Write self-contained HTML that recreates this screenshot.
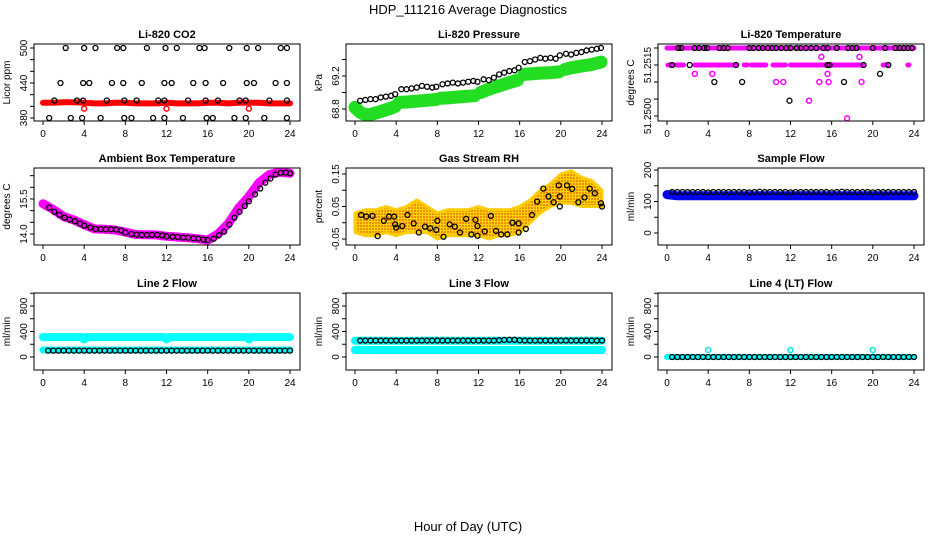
<!DOCTYPE html>
<html><head><meta charset="utf-8"><style>
html,body{margin:0;padding:0;background:#fff;}
svg{display:block;font-family:"Liberation Sans",sans-serif;}
</style></head><body>
<svg id="chart" width="936" height="540" viewBox="0 0 936 540" xmlns="http://www.w3.org/2000/svg">
<defs>
<pattern id="rhpat" width="3" height="3" patternUnits="userSpaceOnUse">
<rect width="3" height="3" fill="#ffd200"/><rect width="2" height="2" fill="#f08c00"/>
</pattern>
</defs>
<text x="468" y="14" text-anchor="middle" font-size="13">HDP_111216  Average Diagnostics</text>
<text x="468" y="531" text-anchor="middle" font-size="13">Hour of Day (UTC)</text>
</svg>
<script>
// ---------- data ----------
const xTicks = [0,4,8,12,16,20,24];
// CO2
const co2RedX = [0,1,2,3,4,5,6,7,8,9,10,11,12,13,14,15,16,17,18,19,20,21,22,23,24];
const co2RedY = [406,406,407,407,406,405,405,406,406,405,405,405,406,405,405,405,406,406,405,406,406,406,405,405,405];
const co2RedCircX = [4,12,20];
const co2RedCircY = [396,396,396];
const co2Black500 = [2.2,4.0,5.1,7.2,7.8,10.1,11.9,13.0,15.2,15.7,18.1,19.8,20.9,23.1,23.7];
const co2Black440 = [1.7,3.9,4.5,6.7,7.8,9.6,11.8,12.5,14.6,15.8,17.5,19.8,20.5,22.6,23.7];
const co2Black410 = [1.1,3.3,3.9,6.2,7.9,9.1,11.2,11.8,14.1,15.8,17.0,19.1,19.7,22.0,23.7];
const co2Black380 = [0.6,2.7,3.8,5.6,7.9,8.6,10.7,11.8,13.6,15.9,16.5,18.6,19.7,21.5,23.7];
// Pressure
const pressGreenX = [0,0.5,1,1.5,2,2.5,3,3.5,3.9, 4.3,5,6,7,7.9, 8.3,9,10,11,11.6, 12.2,13,14,15,15.8, 16.4,17,18,19,19.8, 20.4,21,22,23,23.9];
const pressGreenY = [68.82,68.76,68.73,68.735,68.75,68.77,68.79,68.81,68.83, 68.88,68.885,68.895,68.905,68.915, 68.93,68.935,68.945,68.955,68.96, 69.0,69.04,69.08,69.12,69.15, 69.22,69.225,69.235,69.24,69.25, 69.28,69.3,69.32,69.34,69.37];
const pressGreenSeg = [0,0,0,0,0,0,0,0,0, 1,1,1,1,1, 2,2,2,2,2, 3,3,3,3,3, 4,4,4,4,4, 5,5,5,5,5];
const pressBlackX = [0.5,1,1.5,2,2.5,3,3.5,3.9,4.5,5,5.5,6,6.5,7,7.5,7.9,8.5,9,9.5,10,10.5,11,11.5,11.9,12.5,13,13.5,14,14.5,15,15.5,15.9,16.5,17,17.5,18,18.5,19,19.5,19.9,20.5,21,21.5,22,22.5,23,23.5,23.9];
const pressBlackY = [68.90,68.91,68.92,68.92,68.94,68.95,68.96,68.98,69.04,69.04,69.05,69.06,69.08,69.07,69.06,69.07,69.10,69.11,69.12,69.11,69.12,69.13,69.14,69.13,69.16,69.15,69.18,69.22,69.24,69.26,69.27,69.30,69.37,69.38,69.40,69.42,69.41,69.42,69.41,69.45,69.47,69.46,69.48,69.49,69.51,69.52,69.53,69.54];
// Li-820 temperature
const tempTopX = [0,24];
const tempTopY = [51.2520,51.2520];
const tempMidSegStart = [0.1,0.9,2.7,7.5,8.2,10.3,12.0,21.0,23.4];
const tempMidSegEnd = [0.5,1.6,6.8,7.8,9.6,11.5,19.0,21.4,23.5];
const tempMidLevel = 51.2515;
const tempMagX = [2.7,4.4,15.0,18.7,15.6,10.6,11.3,14.8,15.7,18.9,13.8,17.5];
const tempMagY = [51.25124,51.25124,51.25174,51.25174,51.25124,51.2510,51.2510,51.2510,51.2510,51.2510,51.25045,51.24993];
const tempBlackTopX = [1.1,1.4,2.7,3.1,3.6,3.9,5.1,5.5,5.9,8.0,8.4,8.9,9.3,9.8,10.2,10.6,11.1,11.6,12.0,12.6,13.0,13.5,14.0,14.5,15.2,15.6,16.5,17.6,18.0,18.4,20.0,21.2,22.2,22.6,23.0,23.4,23.8];
const tempBlackMidX = [0.5,2.2,6.7,15.6,15.8,19.1,21.5];
const tempBlackOtherX = [4.6,7.3,11.9,17.2,20.7];
const tempBlackOtherY = [51.2510,51.2510,51.25045,51.2510,51.25124];
// Ambient box temperature
const ambMagX = [0,1,2,3,4,5,6,7,8,9,10,11,12,13,14,15,16,17,18,19,20,21,22,23,24];
const ambMagY = [15.3,15.05,14.75,14.6,14.4,14.22,14.2,14.17,14.08,13.98,13.97,13.96,13.9,13.87,13.84,13.8,13.74,14.0,14.45,15.1,15.6,16.2,16.55,16.65,16.6];
const ambBlackX = [0.6,1.1,1.6,2.1,2.6,3.1,3.6,4.0,4.6,5.1,5.6,6.1,6.6,7.1,7.6,8.0,8.6,9.1,9.6,10.1,10.6,11.1,11.6,12.0,12.6,13.1,13.6,14.1,14.6,15.1,15.6,16.0,16.6,17.1,17.6,18.1,18.6,19.1,19.6,20.0,20.6,21.1,21.6,22.1,22.6,23.1,23.6,24.0];
const ambBlackY = [15.13,14.95,14.82,14.7,14.62,14.55,14.45,14.36,14.28,14.22,14.21,14.2,14.2,14.19,14.15,14.06,14.0,13.97,13.96,13.96,13.96,13.96,13.94,13.9,13.88,13.87,13.85,13.84,13.82,13.8,13.76,13.74,13.8,13.95,14.1,14.4,14.7,14.95,15.2,15.4,15.7,15.95,16.2,16.38,16.55,16.62,16.63,16.6];
// Gas stream RH
const rhEnvX = [0,1,2,3,4,5,6,7,8,9,10,11,12,13,14,15,16,17,18,19,20,21,22,23,24];
const rhEnvLow = [-0.03,-0.04,-0.04,-0.03,-0.04,-0.03,-0.03,-0.03,-0.05,-0.04,-0.04,-0.04,-0.04,-0.05,-0.04,-0.04,-0.03,0.0,0.03,0.05,0.06,0.06,0.05,0.05,0.05];
const rhEnvHigh = [0.03,0.04,0.04,0.05,0.04,0.05,0.07,0.05,0.03,0.04,0.04,0.04,0.05,0.04,0.04,0.04,0.05,0.07,0.10,0.12,0.15,0.16,0.14,0.13,0.10];
const rhBlackX = [0.6,1.1,1.7,2.2,2.8,3.3,3.8,3.9,4.0,4.6,5.1,5.7,6.2,6.8,7.3,7.9,8.0,8.6,9.2,9.7,10.2,10.8,11.3,11.7,11.9,11.9,12.6,13.2,13.7,14.2,14.8,15.3,15.9,15.9,16.6,17.2,17.7,18.3,18.8,19.3,19.8,19.9,19.9,20.6,21.1,21.7,22.3,22.8,23.3,23.9,24.0];
const rhBlackY = [0.024,0.019,0.021,-0.041,0.006,0.019,0.019,-0.005,-0.015,-0.01,0.024,-0.002,-0.03,-0.012,-0.017,-0.022,0.006,-0.043,-0.005,-0.012,-0.03,0.012,-0.036,0.009,-0.01,-0.04,-0.027,0.021,-0.025,-0.036,-0.036,0.0,-0.002,-0.03,-0.019,0.024,0.065,0.105,0.081,0.063,0.115,0.081,0.05,0.115,0.104,0.063,0.078,0.105,0.091,0.06,0.05];
// Sample flow
const sfBlueX = [0,1,2,3,4,5,6,7,8,9,10,11,12,13,14,15,16,17,18,19,20,21,22,23,24];
const sfBlueY = [122,118,118,118,118,118,118,118,118,118,118,118,118,118,118,118,118,118,118,118,118,118,118,118,118];
const sfBlackX = [0.5,1,1.5,2,2.5,3,3.5,4,4.5,5,5.5,6,6.5,7,7.5,8,8.5,9,9.5,10,10.5,11,11.5,12,12.5,13,13.5,14,14.5,15,15.5,16,16.5,17,17.5,18,18.5,19,19.5,20,20.5,21,21.5,22,22.5,23,23.5,24];
const sfBlackY = [130,130,130,130,130,130,130,129,130,130,130,130,130,130,130,129,130,131,130,130,130,130,130,129,130,130,130,130,130,130,130,129,130,131,130,130,130,130,130,129,130,130,130,130,130,130,130,130];
// Line 2 flow
const l2CyanHiX = [0,1,2,3,3.8,4,4.2,5,6,7,8,9,10,11,11.8,12,12.2,13,14,15,16,17,18,19,19.8,20,20.2,21,22,23,24];
const l2CyanHiY = [312,312,312,312,312,275,312,312,312,312,312,312,312,312,312,275,312,312,312,312,312,312,312,312,312,275,312,312,312,312,312];
const l2CyanLoX = [0,4,8,12,16,20,24];
const l2CyanLoY = [110,110,110,110,110,110,110];
const l2BlackX = sfBlackX;
const l2BlackY = [100,100,100,100,100,100,100,100,100,100,100,100,100,100,100,100,100,100,100,100,100,100,100,100,100,100,100,100,100,100,100,100,100,100,100,100,100,100,100,100,100,100,100,100,100,100,100,100];
// Line 3 flow
const l3CyanHiX = [0,4,8,12,16,20,24];
const l3CyanHiY = [255,255,255,255,255,255,255];
const l3CyanLoX = [0,4,8,12,16,20,24];
const l3CyanLoY = [112,110,110,110,110,110,110];
const l3BlackX = sfBlackX;
const l3BlackY = [258,258,258,258,258,258,258,258,258,258,258,258,258,258,258,258,258,258,258,258,258,258,258,258,258,258,258,262,268,270,270,262,258,258,258,258,258,258,258,258,258,258,258,258,258,258,258,258];
// Line 4 flow
const l4CyanX = [0,24];
const l4CyanY = [0,0];
const l4CyanCircX = [4,12,20];
const l4CyanCircY = [110,110,110];
const l4BlackX = sfBlackX;
const l4BlackY = [0,0,0,0,0,0,0,0,0,0,0,0,0,0,0,0,0,0,0,0,0,0,0,0,0,0,0,0,0,0,0,0,0,0,0,0,0,0,0,0,0,0,0,0,0,0,0,0];

// ---------- drawing ----------
const NS = 'http://www.w3.org/2000/svg';
const svg = document.getElementById('chart');
function mk(tag, parent, attrs){
  const e = document.createElementNS(NS, tag);
  for (const k in attrs) e.setAttribute(k, attrs[k]);
  parent.appendChild(e);
  return e;
}
const colL = [34,346,658];
const rowT = [44,168,293];
const W = 266, H = 77;

function panel(col,row,name,title,ylab,yTop,yTopPx,yBot,yBotPx,yt,ylabels){
  const L = colL[col], T = rowT[row];
  const g = mk('g', svg, {});
  
  
  const sx = v => L + 9 + v/24*247;
  const sy = v => (T+yBotPx) + (v - yBot)/(yTop - yBot)*(yTopPx - yBotPx);
  const plot = mk('g', g, {});
  
  
  const box = mk('rect', g, {x:L, y:T, width:W, height:H, fill:'none', stroke:'#000', 'stroke-width':1});
  
  
  const t = mk('text', g, {x:L+W/2, y:T-6, 'text-anchor':'middle', 'font-size':11, 'font-weight':'bold'});
  t.textContent = title;
  
  
  const yl = mk('text', g, {x:0, y:0, 'text-anchor':'middle', 'font-size':10, transform:`translate(${L-24},${T+H/2}) rotate(-90)`});
  yl.textContent = ylab;
  
  
  xTicks.forEach(v=>{
    const tk = mk('line', g, {x1:sx(v), x2:sx(v), y1:T+H, y2:T+H+4, stroke:'#000'});
    
    
    const lb = mk('text', g, {x:sx(v), y:T+H+16, 'text-anchor':'middle', 'font-size':10});
    lb.textContent = v;
    
    
  });
  yt.forEach(v=>{
    const tk = mk('line', g, {x1:L-4, x2:L, y1:sy(v), y2:sy(v), stroke:'#000'});
    
    
  });
  ylabels.forEach(p=>{
    const lb = mk('text', g, {x:0, y:0, 'text-anchor':'middle', 'font-size':10, transform:`translate(${L-7},${sy(p[0])}) rotate(-90)`});
    lb.textContent = p[1];
    
    
  });
  return {g:plot, sx, sy};
}
function dot(P, x, y, r, fill, stroke, sw, nm){
  const c = mk('circle', P.g, {cx:P.sx(x), cy:P.sy(y), r:r, fill:fill, stroke:stroke, 'stroke-width':sw});
  
  
}
function band(P, xs, ys, color, w, nm, seg){
  let pts = [];
  const flush = ()=>{
    if (!pts.length) return;
    const pl = mk('polyline', P.g, {points:pts.join(' '), fill:'none', stroke:color, 'stroke-width':w, 'stroke-linecap':'round', 'stroke-linejoin':'round'});
    
    
    pts = [];
  };
  for (let i=0;i<xs.length;i++){
    if (seg && i>0 && seg[i] !== seg[i-1]) flush();
    pts.push(P.sx(xs[i]).toFixed(1)+','+P.sy(ys[i]).toFixed(1));
  }
  flush();
}
function blacks(P, xs, ys, nm){
  for (let i=0;i<xs.length;i++) dot(P, xs[i], ys[i], 2.5, 'none', '#000', 1.3, nm);
}

// CO2
let P = panel(0,0,'co2','Li-820 CO2','Licor ppm',500,4,380,74,[380,400,420,440,460,480,500],[[380,'380'],[440,'440'],[500,'500']]);
band(P, co2RedX, co2RedY, '#ff0000', 6, 'co2-red-series');
for (let i=0;i<co2RedCircX.length;i++) dot(P, co2RedCircX[i], co2RedCircY[i], 2.5, 'none', '#ff0000', 1.4, 'co2-red-point');
blacks(P, co2Black500, co2Black500.map(()=>500), 'co2-black-point');
blacks(P, co2Black440, co2Black440.map(()=>440), 'co2-black-point');
blacks(P, co2Black410, co2Black410.map(()=>410), 'co2-black-point');
blacks(P, co2Black380, co2Black380.map(()=>380), 'co2-black-point');

// Pressure
P = panel(1,0,'pressure','Li-820 Pressure','kPa',69.2,32,68.8,65,[68.8,69.0,69.2,69.4],[[68.8,'68.8'],[69.2,'69.2']]);
band(P, pressGreenX, pressGreenY, '#22dd22', 13, 'pressure-green-series', pressGreenSeg);
blacks(P, pressBlackX, pressBlackY, 'pressure-black-point');

// Li-820 temperature
P = panel(2,0,'li820-temp','Li-820 Temperature','degrees C',51.2520,4,51.2500,72,[51.2500,51.2505,51.2510,51.2515,51.2520],[[51.2500,'51.2500'],[51.2515,'51.2515']]);
band(P, tempTopX, tempTopY, '#ff00ff', 5, 'li820-temp-magenta-top');
for (let i=0;i<tempMidSegStart.length;i++) band(P, [tempMidSegStart[i],tempMidSegEnd[i]], [tempMidLevel,tempMidLevel], '#ff00ff', 5, 'li820-temp-magenta-mid');
for (let i=0;i<tempMagX.length;i++) dot(P, tempMagX[i], tempMagY[i], 2.5, 'none', '#ff00ff', 1.5, 'li820-temp-magenta-point');
blacks(P, tempBlackTopX, tempBlackTopX.map(()=>51.2520), 'li820-temp-black-point');
blacks(P, tempBlackMidX, tempBlackMidX.map(()=>tempMidLevel), 'li820-temp-black-point');
blacks(P, tempBlackOtherX, tempBlackOtherY, 'li820-temp-black-point');

// Ambient
P = panel(0,1,'ambient','Ambient Box Temperature','degrees C',15.5,31,14.0,66,[14.0,14.5,15.0,15.5,16.0,16.5],[[14.0,'14.0'],[15.5,'15.5']]);
band(P, ambMagX, ambMagY, '#ff00ff', 9, 'ambient-magenta-series');
blacks(P, ambBlackX, ambBlackY, 'ambient-black-point');

// RH
P = panel(1,1,'rh','Gas Stream RH','percent',0.15,6,-0.05,71,[-0.05,0,0.05,0.10,0.15],[[-0.05,'-0.05'],[0.05,'0.05'],[0.15,'0.15']]);
{
  let pts = [];
  for (let i=0;i<rhEnvX.length;i++) pts.push(P.sx(rhEnvX[i])+','+P.sy(rhEnvHigh[i]));
  for (let i=rhEnvX.length-1;i>=0;i--) pts.push(P.sx(rhEnvX[i])+','+P.sy(rhEnvLow[i]));
  const pg = mk('polygon', P.g, {points:pts.join(' '), fill:'url(#rhpat)', stroke:'#ffcc00', 'stroke-width':3, 'stroke-linejoin':'round'});
  
  
}
blacks(P, rhBlackX, rhBlackY, 'rh-black-point');

// Sample flow
P = panel(2,1,'sample-flow','Sample Flow','ml/min',200,2,0,65,[0,50,100,150,200],[[0,'0'],[100,'100'],[200,'200']]);
band(P, sfBlueX, sfBlueY, '#0000ff', 9, 'sample-flow-blue-series');
blacks(P, sfBlackX, sfBlackY, 'sample-flow-black-point');

// Line 2
const rowTicks = [0,200,400,600,800,1000];
const rowLabels = [[0,'0'],[400,'400'],[800,'800']];
P = panel(0,2,'line2','Line 2 Flow','ml/min',800,13,0,64,rowTicks,rowLabels);
band(P, l2CyanHiX, l2CyanHiY, '#00ffff', 8, 'line2-cyan-upper');
band(P, l2CyanLoX, l2CyanLoY, '#00ffff', 7, 'line2-cyan-lower');
blacks(P, l2BlackX, l2BlackY, 'line2-black-point');

// Line 3
P = panel(1,2,'line3','Line 3 Flow','ml/min',800,13,0,64,rowTicks,rowLabels);
band(P, l3CyanHiX, l3CyanHiY, '#00ffff', 8, 'line3-cyan-upper');
band(P, l3CyanLoX, l3CyanLoY, '#00ffff', 8, 'line3-cyan-lower');
blacks(P, l3BlackX, l3BlackY, 'line3-black-point');

// Line 4
P = panel(2,2,'line4','Line 4 (LT) Flow','ml/min',800,13,0,64,rowTicks,rowLabels);
band(P, l4CyanX, l4CyanY, '#00ffff', 6, 'line4-cyan-series');
for (let i=0;i<l4CyanCircX.length;i++) dot(P, l4CyanCircX[i], l4CyanCircY[i], 2.5, 'none', '#00e5e5', 1.5, 'line4-cyan-point');
blacks(P, l4BlackX, l4BlackY, 'line4-black-point');
</script>
</body></html>
